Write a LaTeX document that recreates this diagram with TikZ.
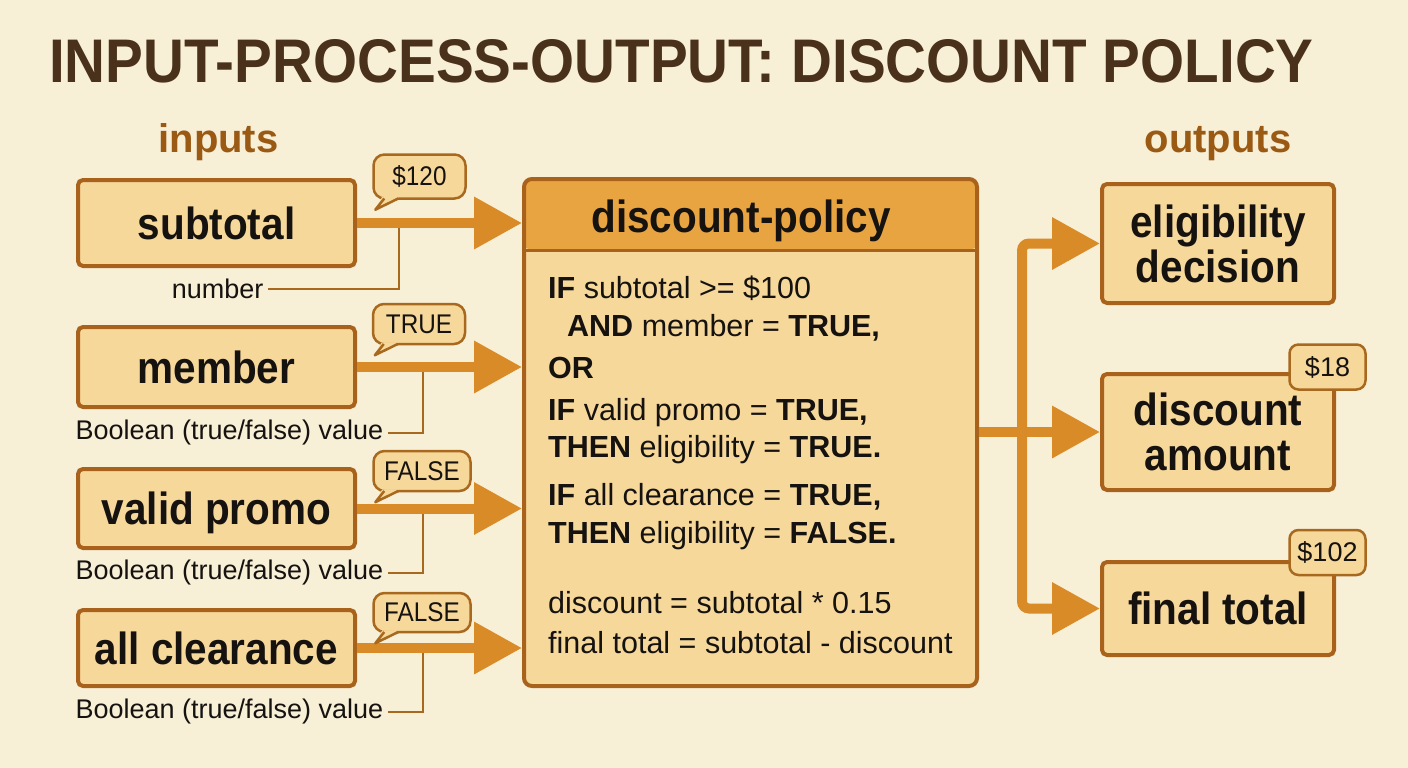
\documentclass[tikz,border=0pt]{standalone}
\usepackage{fontspec}
\usepackage{graphicx}
\setmainfont{Liberation Sans}
\newfontfamily\lblfont[FakeStretch=0.9]{Liberation Sans}
\usetikzlibrary{arrows.meta,calc}
\definecolor{bg}{HTML}{F8EFD7}
\definecolor{boxfill}{HTML}{F6D89B}
\definecolor{boxedge}{HTML}{A9621B}
\definecolor{headfill}{HTML}{E8A441}
\definecolor{flowc}{HTML}{D98B27}
\definecolor{titlec}{HTML}{4A311C}
\definecolor{sectc}{HTML}{9A5A14}
\definecolor{annc}{HTML}{A8691F}
\definecolor{txt}{HTML}{151210}
\newcommand\bubtail[1]{%
  \fill[boxfill] ($(#1.south west)+(10,-3)$) -- ($(#1.south west)+(3,10)$) -- ($(#1.south west)+(27,-3)$) -- cycle;
  \draw[annc, line width=2.5pt, line join=round] ($(#1.south west)+(12,-1.25)$) -- ($(#1.south west)+(3,10)$) -- ($(#1.south west)+(26,-1.25)$);}
\tikzset{
  boxbase/.style={draw=boxedge, line width=4pt, fill=boxfill, rounded corners=5pt, inner sep=0pt, text=txt},
  inbox/.style={boxbase, minimum width=277pt, font=\lblfont\bfseries\fontsize{45}{50}\selectfont, text height=32pt, text depth=0pt},
  outbox/.style={boxbase, minimum width=232pt, align=center, font=\lblfont\bfseries\fontsize{45}{45}\selectfont},
  flow/.style={draw=flowc, line width=10pt, -{Triangle[length=48pt,width=50pt]}},
  ann/.style={draw=annc, line width=1.8pt},
  anntext/.style={font=\fontsize{27}{30}\selectfont, text=txt, inner sep=4.5pt},
  bubble/.style={draw=annc, line width=2.5pt, fill=boxfill, rounded corners=11pt, inner sep=0pt, text=txt, font=\lblfont\fontsize{27}{30}\selectfont},
  badge/.style={draw=annc, line width=2.5pt, fill=boxfill, rounded corners=9pt, inner sep=0pt, text=txt, font=\fontsize{27}{30}\selectfont, minimum width=76pt, minimum height=45pt},
  body/.style={anchor=base west, inner sep=0pt, text=txt, font=\fontsize{30.5}{34}\selectfont},
  sect/.style={anchor=base, inner sep=0pt, text=sectc, font=\bfseries\fontsize{40}{44}\selectfont}
}
\begin{document}
\begin{tikzpicture}[x=1pt,y=-1pt]
\fill[bg] (0,0) rectangle (1408,768);
\useasboundingbox (0,0) rectangle (1408,768);

% title and section headings
\node[anchor=base west, inner sep=0pt, text=titlec] (title) at (49,82)
  {\resizebox{1264pt}{43pt}{\bfseries INPUT-PROCESS-OUTPUT: DISCOUNT POLICY}};
\node[sect] (inhead) at (218.5,152) {inputs};
\node[sect] (outhead) at (1218,152) {outputs};

% input boxes
\node[inbox, minimum height=86pt] (sub) at (216.5,223) {subtotal};
\node[inbox, minimum height=80pt] (mem) at (216.5,367) {member};
\node[inbox, minimum height=79pt] (val) at (216.5,508.5) {valid promo};
\node[inbox, minimum height=76pt] (clr) at (216.5,648) {all clearance};

% process box
\node[boxbase, rounded corners=8pt, minimum width=453pt, minimum height=507pt,
  path picture={\fill[headfill] (path picture bounding box.north west) rectangle ($(path picture bounding box.north east)+(0,71)$);}]
  (proc) at (750.5,432.5) {};
\draw[boxedge, line width=3pt] ($(proc.north west)+(2,73)$) -- ($(proc.north east)+(-2,73)$);
\node[anchor=base, inner sep=0pt, text=txt, font=\lblfont\bfseries\fontsize{45}{50}\selectfont] (ptitle) at (741,232) {discount-policy};

\node[body] (t1) at (548,298) {\textbf{IF} subtotal >= \$100};
\node[body] (t2) at (567,336) {\textbf{AND} member = \textbf{TRUE,}};
\node[body] (t3) at (548,378) {\textbf{OR}};
\node[body] (t4) at (548,420) {\textbf{IF} valid promo = \textbf{TRUE,}};
\node[body] (t5) at (548,457) {\textbf{THEN} eligibility = \textbf{TRUE.}};
\node[body] (t6) at (548,505) {\textbf{IF} all clearance = \textbf{TRUE,}};
\node[body] (t7) at (548,543) {\textbf{THEN} eligibility = \textbf{FALSE.}};
\node[body] (t8) at (548,613) {discount = subtotal * 0.15};
\node[body] (t9) at (548,653) {final total = subtotal - discount};

% input arrows
\draw[flow] (sub.east) -- (sub.east -| proc.west);
\draw[flow] (mem.east) -- (mem.east -| proc.west);
\draw[flow] (val.east) -- (val.east -| proc.west);
\draw[flow] (clr.east) -- (clr.east -| proc.west);

% annotations
\node[anntext, anchor=east] (nnum) at (268,289) {number};
\node[anntext, anchor=east] (nmem) at (388,433) {Boolean (true/false) value};
\node[anntext, anchor=east] (nval) at (388,573) {Boolean (true/false) value};
\node[anntext, anchor=east] (nclr) at (388,712) {Boolean (true/false) value};
\draw[ann] ($(sub.east)+(42,5)$) |- (nnum.east);
\draw[ann] ($(mem.east)+(66,5)$) |- (nmem.east);
\draw[ann] ($(val.east)+(66,5)$) |- (nval.east);
\draw[ann] ($(clr.east)+(66,5)$) |- (nclr.east);

% bubbles
\node[bubble, minimum width=92pt, minimum height=44pt] (b1) at (419.5,176.5) {\$120};
\node[bubble, minimum width=92pt, minimum height=40pt] (b2) at (419,324) {TRUE};
\node[bubble, minimum width=97pt, minimum height=40pt] (b3) at (422,471) {FALSE};
\node[bubble, minimum width=97pt, minimum height=39pt] (b4) at (422,612.5) {FALSE};
\bubtail{b1}
\bubtail{b2}
\bubtail{b3}
\bubtail{b4}

% output boxes
\node[outbox, minimum height=119pt] (eli) at (1218,243.5) {eligibility\\decision};
\node[outbox, minimum height=116pt] (dis) at (1218,432) {discount\\amount};
\node[outbox, minimum height=93pt, text height=32pt, text depth=0pt] (fin) at (1218,608.5) {final total};

% output arrows
\coordinate (bus) at (1022,432);
\draw[flow] (proc.east |- dis.west) -- (dis.west);
\draw[flow, rounded corners=7pt] (bus) |- (eli.west);
\draw[flow, rounded corners=7pt] (bus) |- (fin.west);

% badges
\node[badge] (g1) at (1327.5,367) {\$18};
\node[badge] (g2) at (1327.5,552.5) {\$102};
\end{tikzpicture}
\end{document}
